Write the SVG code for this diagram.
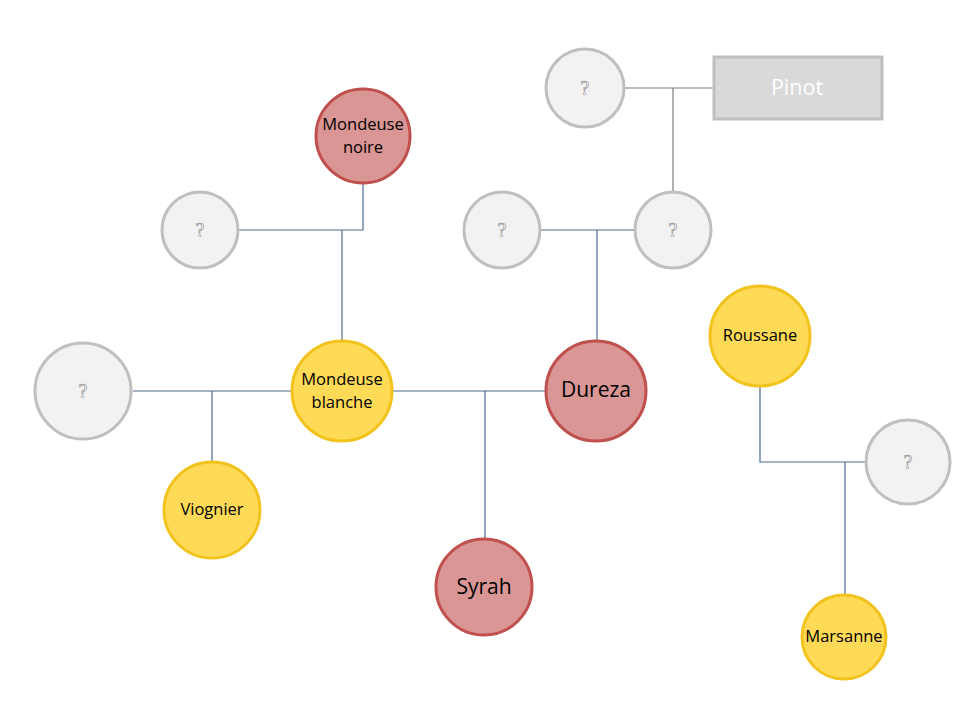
<svg xmlns="http://www.w3.org/2000/svg" width="960" height="720" viewBox="0 0 960 720">
<style>
.red{fill:#d99694;stroke:#c0504d;stroke-width:3}
.yel{fill:#ffda57;stroke:#f2c21d;stroke-width:3}
.unk{fill:#f2f2f2;stroke:#bfbfbf;stroke-width:3}
.lbl{font-family:"Open Sans","Liberation Sans",sans-serif;font-size:16.5px;fill:#000;text-anchor:middle}
.big{font-size:21px}
.q{font-family:"Liberation Serif","DejaVu Serif",serif;font-size:20px;fill:#f8f8f8;stroke:#8c8c8c;stroke-width:0.6;text-anchor:middle}
.ln{fill:none;stroke:#4a6a8c;stroke-width:1.2}
.lg{fill:none;stroke:#7f7f7f;stroke-width:1.2}
</style>
<rect width="960" height="720" fill="#fff"/>
<g id="connectors">
<path class="lg" d="M625 88H714M673 88V192"/>
<path class="ln" d="M540 230H634M597 230V341"/>
<path class="ln" d="M363 184V230H239M342 230V341"/>
<path class="ln" d="M133 391H291M212 391V462"/>
<path class="ln" d="M393 391H546M485 391V540"/>
<path class="ln" d="M760 387V462H866M845 462V596"/>
</g>
<g id="unk1"><circle class="unk" cx="585" cy="88" r="39"/><text class="q" x="585" y="95">?</text></g>
<g id="pinot"><rect x="714" y="57" width="168" height="62" fill="#d9d9d9" stroke="#bfbfbf" stroke-width="3"/><text x="797" y="95" font-family="'Open Sans','Liberation Sans',sans-serif" font-size="21.5" fill="#fff" text-anchor="middle">Pinot</text></g>
<g id="unk2"><circle class="unk" cx="673" cy="230" r="38"/><text class="q" x="673" y="237">?</text></g>
<g id="unk3"><circle class="unk" cx="502" cy="230" r="38"/><text class="q" x="502" y="237">?</text></g>
<g id="dureza"><circle class="red" cx="596" cy="391" r="50"/><text class="lbl big" x="596" y="397">Dureza</text></g>
<g id="mondeuse-noire"><circle class="red" cx="363" cy="136" r="47"/><text class="lbl" x="363" y="130">Mondeuse</text><text class="lbl" x="363" y="153">noire</text></g>
<g id="unk4"><circle class="unk" cx="200" cy="230" r="38"/><text class="q" x="200" y="237">?</text></g>
<g id="mondeuse-blanche"><circle class="yel" cx="342" cy="391" r="50"/><text class="lbl" x="342" y="385">Mondeuse</text><text class="lbl" x="342" y="408">blanche</text></g>
<g id="unk5"><circle class="unk" cx="83" cy="391" r="48"/><text class="q" x="83" y="398">?</text></g>
<g id="viognier"><circle class="yel" cx="212" cy="510" r="48"/><text class="lbl" x="212" y="515">Viognier</text></g>
<g id="syrah"><circle class="red" cx="484" cy="587" r="48"/><text class="lbl big" x="484" y="594">Syrah</text></g>
<g id="roussane"><circle class="yel" cx="760" cy="336" r="50"/><text class="lbl" x="760" y="341">Roussane</text></g>
<g id="unk6"><circle class="unk" cx="908" cy="462" r="42"/><text class="q" x="908" y="469">?</text></g>
<g id="marsanne"><circle class="yel" cx="844" cy="637" r="42"/><text class="lbl" x="844" y="642">Marsanne</text></g>
</svg>
